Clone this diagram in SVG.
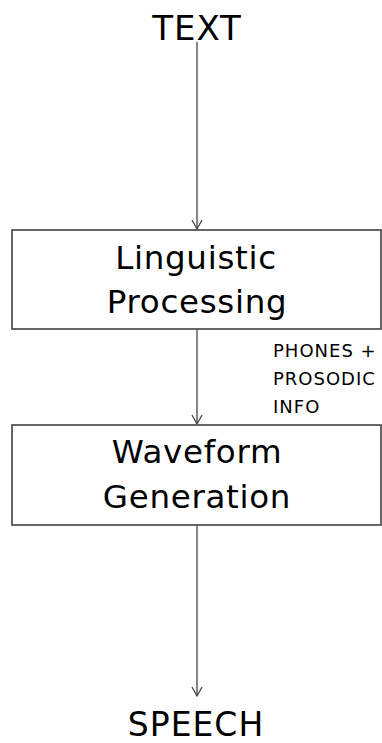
<svg xmlns="http://www.w3.org/2000/svg" width="382" height="743" viewBox="0 0 382 743">
<style>
.box{fill:#fff;stroke:#555;stroke-width:1.8}
.big{font-family:"DejaVu Sans","Open Sans",sans-serif;font-size:32.5px;letter-spacing:0.7px;fill:#000;text-anchor:middle}
.term{font-family:"DejaVu Sans","Open Sans",sans-serif;font-size:34px;letter-spacing:1px;fill:#000;text-anchor:middle}
.lab{font-family:"DejaVu Sans","Open Sans",sans-serif;font-size:18px;letter-spacing:1px;fill:#000}
.con{stroke:#444;stroke-width:1.3;fill:none}
</style>
<defs>
<marker id="arr" markerWidth="12" markerHeight="12" refX="10" refY="6" orient="auto" markerUnits="userSpaceOnUse" viewBox="0 0 12 12">
<path d="M1,1 L10,6 L1,11" fill="none" stroke="#444" stroke-width="1.3"/>
</marker>
</defs>
<rect width="382" height="743" fill="#fff"/>
<g id="connectors">
<line class="con" x1="197" y1="42" x2="197" y2="229" marker-end="url(#arr)"/>
<line class="con" x1="197" y1="329" x2="197" y2="424" marker-end="url(#arr)"/>
<line class="con" x1="197" y1="525" x2="197" y2="696" marker-end="url(#arr)"/>
</g>
<g id="text">
<text class="term" x="197" y="40">TEXT</text>
</g>
<g id="linguistic">
<rect class="box" x="12" y="230" width="369" height="99"/>
<text class="big" x="196" y="269">Linguistic</text>
<text class="big" x="197" y="313">Processing</text>
</g>
<g id="label">
<text class="lab" x="273" y="357">PHONES +</text>
<text class="lab" x="273" y="385">PROSODIC</text>
<text class="lab" x="273" y="413">INFO</text>
</g>
<g id="waveform">
<rect class="box" x="12" y="425" width="369" height="100"/>
<text class="big" x="197" y="463">Waveform</text>
<text class="big" x="197" y="508">Generation</text>
</g>
<g id="speech">
<text class="term" x="196" y="736" style="font-size:33px">SPEECH</text>
</g>
</svg>
